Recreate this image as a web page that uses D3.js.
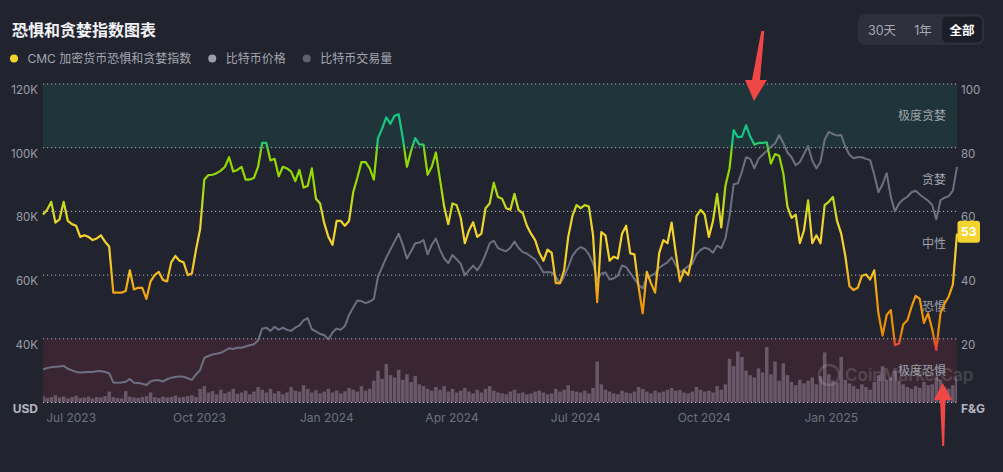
<!DOCTYPE html>
<html>
<head>
<meta charset="utf-8">
<script src="https://cdn.jsdelivr.net/npm/d3@7"></script>
<style>
  body { margin: 0; background: #21232e; }
  svg { display: block; font-family: Inter, "Noto Sans CJK SC", sans-serif; }
</style>
</head>
<body>
<div id="chart"></div>
<script>
// data: one sample every 3 days, starting 2023-06-29
const START_DATE = "2023-06-29";
const STEP_DAYS = 3;

// CMC fear & greed index
const fgValues = [
  59,60.5,63,56.5,57.5,63,57,56,55.5,52,
  52.5,52,51,51.5,52.5,50.5,49,34.5,34.5,34.5,
  35,41.5,35.5,36,36,32.5,38,40,41,38.5,
  38,44,46,44.5,44,40,40.5,48,54.5,70,
  71.4,71.5,72,72.8,74,77,72.5,73,74,70,
  70,70.5,74,81.5,81.5,76,76.5,71,74,73.5,
  72.5,69.5,73,67.5,68,73.5,64,62.5,56.3,52,
  49.5,57,57,55.5,57,66,70.5,75.5,75.5,73.5,
  70,83,86,89.5,87.5,90,90.5,83,74,79,
  83,81,81,71.5,74,78.5,70,61.5,56,62.5,
  62,58,50,54,56.6,52,53,61,62.5,69,
  64.5,64,61,60.5,65.5,60.4,59.5,55.5,53,51,
  47,44.5,48,47,37.5,37.5,41.5,52,58.5,62,
  61,62,61.5,52.5,31.5,53.5,52.5,44.5,45.8,45.2,
  53,55.5,46.8,46.5,36.4,28,41,37.5,34.5,47,
  51,50,56.5,47,38,41.5,40,46,58.5,60.5,
  59,52,57,65.5,55,68,73.5,85.5,83.3,83.5,
  87,83.5,81,81.5,81.5,81.7,75,78,77.5,72,
  61.5,58,59,50,54,63.5,50,52.5,50,62,
  63,64.5,57,53,46,36.5,35.3,36,39.8,40.2,
  38.6,41.5,28,21,27.5,29,18,18.5,24.5,25.8,
  30,33.5,32.5,25,28,23,16.5,28,31.1,33.3,
  37,53
];

// bitcoin price, thousand USD
const btcPrice = [
  30.4,30.8,31.1,31.2,31.3,31.5,30.6,30.1,29.6,29.4,
  29.5,29.6,29.6,29.8,29.9,29.6,29.2,26.3,26.2,26.3,
  26.5,27.4,26.2,26.1,25.9,25.5,26.6,27,27,26.6,
  27.3,27.8,28,28.2,28.1,27.6,27.1,28.8,30.2,34,
  34.6,35.1,35.3,35.6,36.3,37,36.8,37.2,37.2,37.6,
  38,38.3,39.5,43.2,43.5,42.5,43.8,42.8,43.5,42.8,
  42.5,43.5,44.2,45.8,46.5,43,42.3,41.5,41.2,39.8,
  42,43.2,42.8,44,47.5,49.8,52,51.8,51.2,51.7,
  52.5,59.5,62.5,65.5,68,70.5,73,69.5,65.2,67.5,
  70,70.2,71,66.5,69.5,71.5,67.9,65.2,63.8,66.3,
  65,63.5,60,61.5,63,61.5,63.5,66.5,70,70.8,
  68.5,67.9,67.5,68.6,70.5,68.5,67.2,66.8,65.8,64.9,
  63,60.8,61,60.8,59.5,57.4,59.5,62.6,66,67.8,
  68.8,68.2,66.5,63.7,58.5,60.5,60.8,58.6,59,59.8,
  63,62.5,60.6,58.8,57,55.8,59.5,59.8,60.5,62.3,
  63.2,64,65.6,63.2,60.8,61.8,62.8,63.5,66.5,67.9,
  68.6,68.2,67,69.3,68.5,71.5,78.5,88.5,88.8,92.5,
  97,96.5,93.5,96.5,97.8,99,100.3,101.3,104,101.5,
  98.5,97,94.5,95.5,98,100.5,96,93.5,95.5,102.5,
  105,104.3,103.8,104,100.3,97.8,96.7,97,97,96.5,
  96.1,91.5,86,88.5,92,84.5,80,82.5,83.8,84.6,
  86,86.5,85.3,84.3,83.4,82,77.5,83.5,84.3,84.8,
  86.5,94
];

// bitcoin volume, billion USD
const btcVolume = [
  14,10,12,16,11,13,9,12,15,10,
  11,13,9,12,11,14,24,12,10,9,
  25,13,11,10,12,14,22,12,10,13,
  11,12,15,11,12,14,16,12,30,36,
  22,25,18,28,20,24,30,19,22,26,
  18,24,34,28,22,30,20,25,18,22,
  34,26,24,38,30,22,27,20,24,30,
  22,26,20,25,32,28,24,36,26,30,
  48,70,52,85,60,55,72,50,62,45,
  58,40,36,30,26,34,28,36,24,30,
  22,26,32,24,20,28,22,30,36,26,
  22,20,18,24,28,20,22,18,20,24,
  26,22,18,20,30,24,28,38,26,24,
  22,26,20,32,90,40,28,24,20,18,
  26,22,20,24,34,30,24,20,26,22,
  24,28,32,26,28,22,20,24,34,28,
  24,26,22,36,28,40,96,80,112,100,
  70,60,55,75,66,122,62,90,48,86,
  60,45,38,50,42,48,55,40,58,110,
  62,48,44,100,50,42,36,30,40,34,
  28,45,60,80,50,55,70,48,40,34,
  30,36,32,45,38,40,56,50,34,30,
  38,55
];

const priceTicks = [20, 40, 60, 80, 100, 120];
const fgTicks = [0, 20, 40, 60, 80, 100];
const zoneLabels = ["极度恐惧", "恐惧", "中性", "贪婪", "极度贪婪"];
const legendItems = ["CMC 加密货币恐惧和贪婪指数", "比特币价格", "比特币交易量"];
const rangeButtons = ["30天", "1年", "全部"];

// layout
const width = 1003, height = 472;
const margin = {top: 84, right: 46, bottom: 69.5, left: 43};
const plotRight = width - margin.right;
const plotBottom = height - margin.bottom;

let svg = d3.select("#chart")
    .append("svg")
    .attr("width", width)
    .attr("height", height);

svg.append("rect")
    .attr("width", width)
    .attr("height", height)
    .attr("fill", "#21232e");

// dates for every sample
let start = d3.timeParse("%Y-%m-%d")(START_DATE);
let dates = fgValues.map(function(d, i) { return d3.timeDay.offset(start, i * STEP_DAYS); });

// scales
let x = d3.scaleTime()
    .domain([dates[0], dates[dates.length - 1]])
    .range([margin.left, plotRight]);
let yFG = d3.scaleLinear().domain([0, 100]).range([plotBottom, margin.top]);
let yPrice = d3.scaleLinear().domain([20, 120]).range([plotBottom, margin.top]);
let yVol = d3.scaleLinear().domain([0, 700]).range([plotBottom, margin.top]);

// clip to plot area
svg.append("clipPath")
    .attr("id", "plot-clip")
    .append("rect")
    .attr("x", margin.left)
    .attr("y", margin.top - 10)
    .attr("width", plotRight - margin.left)
    .attr("height", plotBottom - margin.top + 10);

// extreme greed / extreme fear bands
svg.append("rect")
    .attr("x", margin.left)
    .attr("y", yFG(100))
    .attr("width", plotRight - margin.left)
    .attr("height", yFG(80) - yFG(100))
    .attr("fill", "#1f3539");
svg.append("rect")
    .attr("x", margin.left)
    .attr("y", yFG(20))
    .attr("width", plotRight - margin.left)
    .attr("height", yFG(0) - yFG(20))
    .attr("fill", "#3a2632");

// volume bars
let bw = (x(dates[1]) - x(dates[0])) * 0.85;
svg.append("g")
    .attr("clip-path", "url(#plot-clip)")
    .selectAll("rect")
    .data(btcVolume)
    .enter()
    .append("rect")
    .attr("x", function(d, i) { return x(dates[i]) - bw / 2; })
    .attr("y", function(d) { return yVol(d); })
    .attr("width", bw)
    .attr("height", function(d) { return plotBottom - yVol(d); })
    .attr("fill", "#685869");

// dotted gridlines
svg.append("g")
    .selectAll("line")
    .data(fgTicks)
    .enter()
    .append("line")
    .attr("x1", margin.left)
    .attr("x2", plotRight)
    .attr("y1", function(d) { return yFG(d); })
    .attr("y2", function(d) { return yFG(d); })
    .attr("stroke", "#b5b8c3")
    .attr("stroke-width", 1)
    .attr("stroke-dasharray", "1.2 2.8");

// watermark
let wm = svg.append("g").attr("opacity", 0.14);
wm.append("circle")
    .attr("cx", 829).attr("cy", 375).attr("r", 10)
    .attr("fill", "none").attr("stroke", "#ffffff").attr("stroke-width", 2.5);
wm.append("text")
    .attr("x", 845).attr("y", 381)
    .attr("fill", "#ffffff")
    .style("font-size", "17px")
    .style("font-weight", 600)
    .text("CoinMarketCap");

// zone labels on the right
svg.append("g")
    .selectAll("text")
    .data(zoneLabels)
    .enter()
    .append("text")
    .attr("x", plotRight - 11)
    .attr("y", function(d, i) { return yFG(10 + i * 20) + 4.5; })
    .style("text-anchor", "end")
    .style("font-size", "12px")
    .attr("fill", "#9ea1ac")
    .text(function(d) { return d; });

// btc price line
let priceLine = d3.line()
    .x(function(d, i) { return x(dates[i]); })
    .y(function(d) { return yPrice(d); });
svg.append("path")
    .datum(btcPrice)
    .attr("d", priceLine)
    .attr("fill", "none")
    .attr("stroke", "#6c7082")
    .attr("stroke-width", 2)
    .attr("stroke-linejoin", "round");

// fear & greed line, coloured by value
let grad = svg.append("defs").append("linearGradient")
    .attr("id", "fg-grad")
    .attr("gradientUnits", "userSpaceOnUse")
    .attr("x1", 0).attr("x2", 0)
    .attr("y1", yFG(0)).attr("y2", yFG(100));
[[0, "#ea3943"], [17, "#ea3943"], [22, "#ea8c00"], [32, "#ef9a0c"], [45, "#f3cf2c"],
 [55, "#f3d42f"], [62, "#c8d820"], [70, "#93d900"], [78, "#93d900"], [82, "#16c784"], [100, "#16c784"]]
    .forEach(function(s) {
        grad.append("stop").attr("offset", s[0] / 100).attr("stop-color", s[1]);
    });

let fgLine = d3.line()
    .x(function(d, i) { return x(dates[i]); })
    .y(function(d) { return yFG(d); });
svg.append("path")
    .datum(fgValues)
    .attr("d", fgLine)
    .attr("fill", "none")
    .attr("stroke", "url(#fg-grad)")
    .attr("stroke-width", 2.2)
    .attr("stroke-linejoin", "round");

// left axis (price)
svg.append("g")
    .selectAll("text")
    .data(priceTicks)
    .enter()
    .append("text")
    .attr("x", margin.left - 5)
    .attr("y", function(d) { return yPrice(d) + 10; })
    .style("text-anchor", "end")
    .style("font-size", function(d) { return d == 20 ? "12px" : "11.5px"; })
    .style("font-weight", function(d) { return d == 20 ? 700 : 400; })
    .attr("fill", function(d) { return d == 20 ? "#b3b6c1" : "#9b9eaa"; })
    .text(function(d) { return d == 20 ? "USD" : d + "K"; });

// right axis (F&G)
svg.append("g")
    .selectAll("text")
    .data(fgTicks)
    .enter()
    .append("text")
    .attr("x", plotRight + 4)
    .attr("y", function(d) { return yFG(d) + 10; })
    .style("font-size", function(d) { return d == 0 ? "12px" : "11.5px"; })
    .style("font-weight", function(d) { return d == 0 ? 700 : 400; })
    .attr("fill", function(d) { return d == 0 ? "#b3b6c1" : "#9b9eaa"; })
    .text(function(d) { return d == 0 ? "F&G" : d; });

// x axis labels, quarterly
let fmt = d3.timeFormat("%b %Y");
let xTicks = x.ticks(d3.timeMonth.every(3)).filter(function(t) { return x(t) < plotRight - 50; });
svg.append("g")
    .selectAll("text")
    .data(xTicks)
    .enter()
    .append("text")
    .attr("x", function(d) { return x(d) + 0.5; })
    .attr("y", plotBottom + 19.5)
    .style("font-size", "12px")
    .attr("fill", "#6d7181")
    .text(function(d) { return fmt(d); });

// current value badge
let last = fgValues[fgValues.length - 1];
let badgeY = yFG(last) - 2;
svg.append("rect")
    .attr("x", plotRight + 0.5)
    .attr("y", badgeY - 11)
    .attr("width", 22.5)
    .attr("height", 22)
    .attr("rx", 3)
    .attr("fill", "#f3d42f");
svg.append("text")
    .attr("x", plotRight + 11.8)
    .attr("y", badgeY + 4.5)
    .style("text-anchor", "middle")
    .style("font-size", "12px")
    .style("font-weight", 700)
    .attr("fill", "#ffffff")
    .text(last);

// title
svg.append("text")
    .attr("x", 12)
    .attr("y", 35.5)
    .style("font-size", "16px")
    .style("font-weight", 700)
    .attr("fill", "#f1f2f5")
    .text("恐惧和贪婪指数图表");

// legend
let legendColors = ["#f3d42f", "#9b9eab", "#5d606e"];
let lx = 14;
legendItems.forEach(function(name, i) {
    svg.append("circle")
        .attr("cx", lx)
        .attr("cy", 58.5)
        .attr("r", 4)
        .attr("fill", legendColors[i]);
    let t = svg.append("text")
        .attr("x", lx + 13.5)
        .attr("y", 63)
        .style("font-size", "12px")
        .attr("fill", "#a4a7b2")
        .text(name);
    lx = lx + 13.5 + t.node().getComputedTextLength() + 21;
});

// range buttons
svg.append("rect")
    .attr("x", 858).attr("y", 14)
    .attr("width", 126).attr("height", 31)
    .attr("rx", 7)
    .attr("fill", "#2d2f3c");
svg.append("rect")
    .attr("x", 942).attr("y", 16.5)
    .attr("width", 40).attr("height", 26)
    .attr("rx", 5)
    .attr("fill", "#1c1e27");
let btnX = [882, 923, 962];
svg.append("g")
    .selectAll("text")
    .data(rangeButtons)
    .enter()
    .append("text")
    .attr("x", function(d, i) { return btnX[i]; })
    .attr("y", 34.5)
    .style("text-anchor", "middle")
    .style("font-size", "12.5px")
    .style("font-weight", function(d, i) { return i == 2 ? 700 : 400; })
    .attr("fill", function(d, i) { return i == 2 ? "#ffffff" : "#a6a9b4"; })
    .text(function(d) { return d; });

// red annotation arrows
let arrows = [
    [[761.3, 31], [764.3, 31], [760, 80], [767, 80], [754, 101], [745, 80], [752, 80]],
    [[942.7, 383], [952, 400], [945.5, 400], [944.2, 446], [942.2, 446], [940, 400], [934, 400]]
];
svg.append("g")
    .selectAll("polygon")
    .data(arrows)
    .enter()
    .append("polygon")
    .attr("points", function(d) { return d.map(function(p) { return p.join(","); }).join(" "); })
    .attr("fill", "#ef4646");
</script>
</body>
</html>
